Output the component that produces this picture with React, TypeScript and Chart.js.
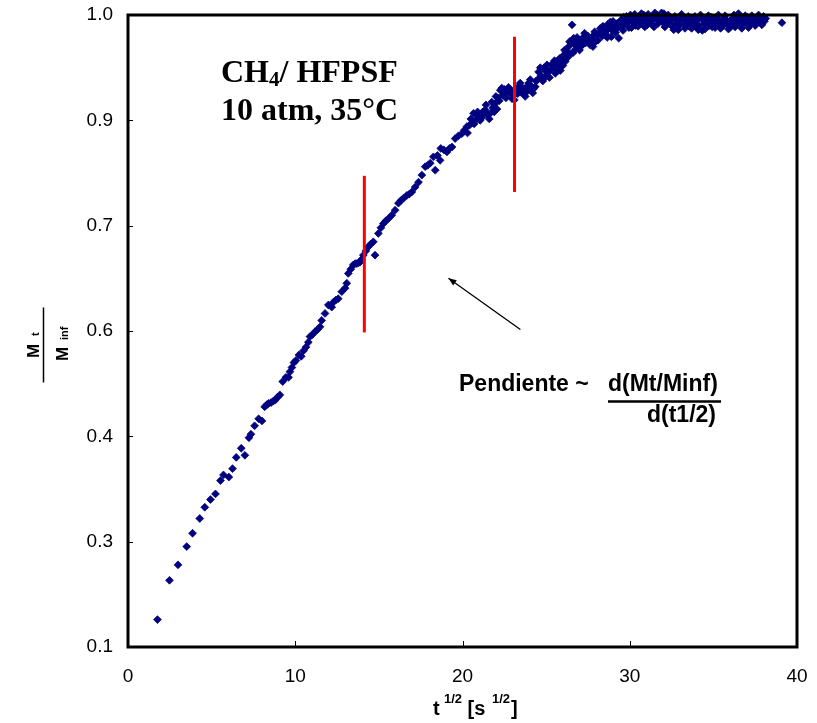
import React, { useEffect, useRef } from "react";
import { Chart, registerables } from "chart.js";

Chart.register(...registerables);

// t^(1/2) [s^(1/2)] , Mt/Minf
const uptakePoints: [number, number][] = [
  [1.76, 0.139], [2.48, 0.195], [2.99, 0.217], [3.51, 0.243], [3.86, 0.262], [4.29, 0.283],
  [4.59, 0.299], [4.93, 0.31], [5.23, 0.318], [5.53, 0.337], [5.71, 0.345], [6.03, 0.342],
  [6.25, 0.354], [6.47, 0.37], [6.77, 0.383], [6.99, 0.373], [7.23, 0.398], [7.35, 0.403],
  [7.57, 0.415], [7.81, 0.425], [8.01, 0.422], [8.17, 0.442], [8.3, 0.445], [8.41, 0.447],
  [8.55, 0.448], [8.68, 0.45], [8.82, 0.452], [8.95, 0.456], [9.08, 0.459], [9.25, 0.478],
  [9.44, 0.484], [9.6, 0.484], [9.68, 0.492], [9.8, 0.498], [9.92, 0.505], [10.04, 0.508],
  [10.22, 0.516], [10.36, 0.514], [10.5, 0.522], [10.64, 0.527], [10.78, 0.534],
  [10.88, 0.542], [11.03, 0.545], [11.18, 0.549], [11.33, 0.552], [11.48, 0.556], [11.58, 0.565],
  [11.78, 0.575], [11.98, 0.587], [12.18, 0.584], [12.28, 0.591], [12.42, 0.594], [12.57, 0.596],
  [12.78, 0.606], [12.98, 0.611], [13.08, 0.618], [13.17, 0.632], [13.32, 0.638], [13.47, 0.644],
  [13.58, 0.646], [13.68, 0.646], [13.78, 0.647], [13.87, 0.648], [13.97, 0.652], [14.07, 0.658],
  [14.22, 0.664], [14.37, 0.67], [14.52, 0.674], [14.67, 0.677], [14.77, 0.658], [14.97, 0.689],
  [15.12, 0.697], [15.27, 0.703], [15.42, 0.707], [15.57, 0.71], [15.77, 0.715], [15.97, 0.722],
  [16.17, 0.732], [16.32, 0.736], [16.47, 0.739], [16.67, 0.743], [16.82, 0.745], [16.97, 0.748],
  [17.17, 0.755], [17.37, 0.762], [17.57, 0.772], [17.77, 0.784], [17.92, 0.786], [18.07, 0.789],
  [18.26, 0.798], [18.37, 0.779], [18.5, 0.8], [18.66, 0.793], [18.7, 0.81], [18.88, 0.808],
  [19.07, 0.805], [19.22, 0.81], [19.37, 0.812], [19.56, 0.824], [19.76, 0.828], [19.96, 0.831],
  [20.11, 0.836], [20.26, 0.841], [20.41, 0.843], [20.56, 0.846], [20.66, 0.86], [20.81, 0.851],
  [20.95, 0.856], [21.06, 0.85], [21.1, 0.853], [21.21, 0.862], [21.36, 0.865], [21.51, 0.858],
  [21.66, 0.86], [21.81, 0.868], [21.96, 0.874], [22.06, 0.866], [22.11, 0.882], [22.26, 0.893],
  [22.41, 0.886], [22.51, 0.894], [22.66, 0.891], [22.81, 0.889], [22.96, 0.881], [23.06, 0.886],
  [23.2, 0.893], [23.35, 0.898], [23.5, 0.89], [23.65, 0.888], [23.8, 0.897], [23.95, 0.903],
  [24.1, 0.899], [24.25, 0.895], [24.4, 0.906], [24.55, 0.919], [24.62, 0.91], [24.7, 0.914],
  [24.85, 0.924], [24.95, 0.912], [25.0, 0.92], [25.15, 0.919], [25.3, 0.923], [25.45, 0.926],
  [25.55, 0.917], [25.6, 0.93], [25.75, 0.929], [25.85, 0.921], [25.9, 0.936], [26.05, 0.943],
  [26.15, 0.934], [26.2, 0.948], [26.35, 0.955], [26.45, 0.945], [26.5, 0.96], [26.55, 0.986],
  [26.65, 0.967], [26.75, 0.951], [26.8, 0.96], [26.95, 0.964], [27.05, 0.955], [27.1, 0.962],
  [27.25, 0.969], [27.35, 0.96], [27.45, 0.965], [27.65, 0.957], [27.7, 0.966], [27.84, 0.971],
  [27.95, 0.962], [28.05, 0.972], [28.24, 0.981], [28.35, 0.97], [28.45, 0.975], [28.54, 0.976],
  [28.65, 0.968], [28.75, 0.981], [28.84, 0.99], [28.95, 0.978], [29.05, 0.985], [29.15, 0.975],
  [29.25, 0.988], [29.34, 0.967], [29.45, 0.992], [29.55, 0.984], [29.64, 0.997], [29.75, 0.988],
  [29.85, 0.993], [29.95, 0.982], [30.04, 1.0], [30.15, 0.991], [30.25, 0.996], [30.35, 0.985],
  [30.44, 0.99], [30.55, 0.997], [30.65, 0.988], [30.75, 0.994], [30.84, 1.0], [30.95, 0.992],
  [31.05, 0.986], [31.15, 0.995], [31.24, 0.988], [31.35, 0.992], [31.45, 0.983], [31.55, 0.996],
  [31.64, 1.0], [31.75, 0.993], [31.85, 0.998], [31.95, 0.99], [32.04, 1.002], [32.15, 0.996],
  [32.25, 0.988], [32.34, 0.995], [32.45, 0.986], [32.55, 0.984], [32.63, 0.979], [32.75, 0.987],
  [32.85, 0.992], [32.95, 0.985], [33.03, 0.993], [33.15, 0.997], [33.25, 0.987], [33.35, 0.994],
  [33.44, 0.99], [33.55, 0.984], [33.65, 0.996], [33.75, 0.99], [33.83, 0.988], [33.95, 0.984],
  [34.05, 0.993], [34.15, 0.985], [34.23, 1.0], [34.34, 0.978], [34.45, 0.988], [34.55, 0.995],
  [34.63, 0.99], [34.75, 0.985], [34.85, 0.997], [34.93, 0.983], [35.05, 0.99], [35.15, 0.995],
  [35.25, 0.986], [35.35, 0.992], [35.43, 0.981], [35.55, 0.989], [35.65, 0.996], [35.73, 0.993],
  [35.85, 0.986], [35.95, 0.991], [36.03, 0.983], [36.13, 0.995], [36.23, 1.0], [36.35, 0.99],
  [36.45, 0.996], [36.53, 0.988], [36.65, 0.993], [36.75, 0.986], [36.85, 0.995], [36.95, 0.99],
  [37.03, 0.997], [37.15, 0.992], [37.25, 0.987], [37.33, 0.99], [37.45, 0.995], [37.55, 0.992],
  [37.63, 0.997], [37.75, 0.99], [37.85, 0.994], [37.93, 0.995], [38.05, 0.991], [38.13, 0.995],
  [39.1, 0.989],
  // additional readings across the thick band
  [20.3, 0.832], [20.5, 0.852], [20.7, 0.845], [20.9, 0.862], [21.2, 0.855], [21.4, 0.872],
  [21.6, 0.852], [21.75, 0.876], [21.9, 0.862], [22.0, 0.884], [22.2, 0.878], [22.35, 0.896],
  [22.6, 0.882], [22.75, 0.897], [22.9, 0.893], [23.1, 0.879], [23.3, 0.888], [23.45, 0.903],
  [23.6, 0.896], [23.75, 0.884], [23.9, 0.892], [24.05, 0.908], [24.2, 0.889], [24.35, 0.898],
  [24.5, 0.908], [24.65, 0.925], [24.8, 0.906], [25.05, 0.929], [25.2, 0.911], [25.35, 0.93],
  [25.5, 0.935], [25.7, 0.921], [25.8, 0.938], [26.0, 0.928], [26.1, 0.95], [26.3, 0.94],
  [26.4, 0.962], [26.6, 0.946], [26.7, 0.958], [26.85, 0.968], [27.0, 0.95], [27.2, 0.958],
  [27.3, 0.974], [27.5, 0.97], [27.6, 0.962], [27.8, 0.955], [27.9, 0.976], [28.1, 0.964],
  [28.2, 0.975], [28.4, 0.984], [28.6, 0.972], [28.7, 0.987], [28.9, 0.969], [29.0, 0.991],
  [29.2, 0.98], [29.4, 0.986], [29.6, 0.978], [29.8, 0.998], [29.9, 0.99], [30.1, 0.982],
  [30.3, 1.001], [30.5, 0.984], [30.7, 1.002], [30.9, 0.983], [31.1, 1.001], [31.3, 0.997],
  [31.5, 1.003], [31.7, 0.988], [31.9, 1.003], [32.1, 0.983], [32.3, 1.0], [32.5, 0.993],
  [32.7, 0.998], [32.9, 0.979], [33.1, 1.001], [33.3, 0.981], [33.5, 0.998], [33.7, 0.981],
  [33.9, 0.998], [34.1, 0.979], [34.3, 0.995], [34.5, 0.98], [34.7, 0.999], [34.9, 0.991],
  [35.1, 0.982], [35.3, 1.0], [35.5, 0.983], [35.7, 0.999], [35.9, 0.98], [36.1, 0.988],
  [36.3, 0.983], [36.5, 1.002], [36.7, 0.981], [36.9, 0.999], [37.1, 0.982], [37.3, 0.999],
  [37.5, 0.985], [37.7, 1.0], [37.9, 0.986], [38.0, 0.998],
];

// red vertical markers (x, yBottom, yTop)
const redMarkerX = [14.13, 23.11];
const redMarkerBottom = [0.548, 0.748];
const redMarkerTop = [0.771, 0.969];

// arrow: tail -> head (data coords)
const arrowTail = [23.46, 0.552];
const arrowHead = [19.16, 0.625];

const xTickValues = [0, 10, 20, 30, 40];
const yTickValues = [0.1, 0.25, 0.4, 0.55, 0.7, 0.85, 1.0];
const yTickLabels = ["0.1", "0.3", "0.4", "0.6", "0.7", "0.9", "1.0"];

const SANS = '"Liberation Sans", Arial, sans-serif';
const SERIF = '"Liberation Serif", "Times New Roman", serif';

const decorPlugin = {
  id: "decor",
  afterDraw(chart: any) {
    const ctx = chart.ctx as CanvasRenderingContext2D;
    const { left, right, top, bottom } = chart.chartArea;
    const xs = chart.scales.x;
    const ys = chart.scales.y;
    ctx.save();
    // frame
    ctx.strokeStyle = "#000";
    ctx.lineWidth = 3;
    ctx.strokeRect(left, top, right - left, bottom - top);
    // inward ticks
    ctx.lineWidth = 1;
    ctx.beginPath();
    for (const v of xTickValues) {
      const px = Math.round(xs.getPixelForValue(v)) + 0.5;
      ctx.moveTo(px, bottom);
      ctx.lineTo(px, bottom - 6);
    }
    for (const v of yTickValues) {
      const py = Math.round(ys.getPixelForValue(v)) + 0.5;
      ctx.moveTo(left, py);
      ctx.lineTo(left + 5, py);
    }
    ctx.stroke();

    // arrow
    const tx = xs.getPixelForValue(arrowTail[0]);
    const ty = ys.getPixelForValue(arrowTail[1]);
    const hx = xs.getPixelForValue(arrowHead[0]);
    const hy = ys.getPixelForValue(arrowHead[1]);
    ctx.strokeStyle = "#000";
    ctx.lineWidth = 1.3;
    ctx.beginPath();
    ctx.moveTo(tx, ty);
    ctx.lineTo(hx, hy);
    ctx.stroke();
    const ang = Math.atan2(hy - ty, hx - tx);
    const L = 8, W = 3.2;
    ctx.fillStyle = "#000";
    ctx.beginPath();
    ctx.moveTo(hx, hy);
    ctx.lineTo(hx - L * Math.cos(ang) + W * Math.sin(ang), hy - L * Math.sin(ang) - W * Math.cos(ang));
    ctx.lineTo(hx - L * Math.cos(ang) - W * Math.sin(ang), hy - L * Math.sin(ang) + W * Math.cos(ang));
    ctx.closePath();
    ctx.fill();

    // title annotation (serif)
    ctx.fillStyle = "#000";
    ctx.textAlign = "left";
    ctx.textBaseline = "alphabetic";
    ctx.font = `bold 32px ${SERIF}`;
    ctx.fillText("CH", 221, 82);
    const wCH = ctx.measureText("CH").width;
    ctx.font = `bold 21px ${SERIF}`;
    ctx.fillText("4", 221 + wCH, 86);
    const w4 = ctx.measureText("4").width;
    ctx.font = `bold 32px ${SERIF}`;
    ctx.fillText("/ HFPSF", 221 + wCH + w4, 82);
    ctx.fillText("10 atm, 35°C", 221, 120);

    // slope annotation
    ctx.font = `bold 23px ${SANS}`;
    ctx.fillText("Pendiente ~", 459, 391);
    ctx.fillText("d(Mt/Minf)", 608, 391);
    ctx.fillText("d(t1/2)", 647, 422);
    ctx.lineWidth = 2.5;
    ctx.beginPath();
    ctx.moveTo(608, 401.5);
    ctx.lineTo(721, 401.5);
    ctx.stroke();

    // x-axis title t^{1/2} [s ^{1/2}]
    ctx.font = `bold 20px ${SANS}`;
    ctx.fillText("t", 433, 715);
    ctx.font = `bold 13px ${SANS}`;
    ctx.fillText("1/2", 444, 703);
    ctx.font = `bold 20px ${SANS}`;
    ctx.fillText("[s", 467.5, 715);
    ctx.font = `bold 13px ${SANS}`;
    ctx.fillText("1/2", 492, 703);
    ctx.font = `bold 20px ${SANS}`;
    ctx.fillText("]", 511, 715);

    // y-axis title: M t / M inf (rotated)
    ctx.save();
    ctx.rotate(-Math.PI / 2);
    ctx.font = `bold 17px ${SANS}`;
    ctx.fillText("M", -358, 39);
    ctx.font = `bold 11px ${SANS}`;
    ctx.fillText("t", -336, 39);
    ctx.font = `bold 17px ${SANS}`;
    ctx.fillText("M", -361, 68);
    ctx.font = `bold 11px ${SANS}`;
    ctx.fillText("inf", -340, 68);
    ctx.restore();
    ctx.lineWidth = 1.5;
    ctx.beginPath();
    ctx.moveTo(43.5, 307.5);
    ctx.lineTo(43.5, 382.5);
    ctx.stroke();

    ctx.restore();
  },
};

const zeroPad = (scale: any) => {
  scale.paddingLeft = 0;
  scale.paddingRight = 0;
  scale.paddingTop = 0;
  scale.paddingBottom = 0;
};

export default function App() {
  const canvasRef = useRef<HTMLCanvasElement | null>(null);

  useEffect(() => {
    const canvas = canvasRef.current;
    if (!canvas) return;
    const redSets = redMarkerX.map((x, i) => ({
      type: "line" as const,
      data: [
        { x, y: redMarkerBottom[i] },
        { x, y: redMarkerTop[i] },
      ],
      borderColor: "#FF0000",
      borderWidth: 3,
      pointRadius: 0,
      showLine: true,
      fill: false,
      order: 0,
    }));
    const chart = new Chart(canvas, {
      type: "scatter",
      data: {
        datasets: [
          ...redSets,
          {
            type: "scatter" as const,
            data: uptakePoints.map(([x, y]) => ({ x, y })),
            pointStyle: "rectRot",
            pointRadius: 3.9,
            pointBorderWidth: 0.8,
            backgroundColor: "#000080",
            borderColor: "#000080",
            clip: false,
            order: 1,
          } as any,
        ],
      },
      options: {
        responsive: false,
        animation: false,
        devicePixelRatio: 1,
        layout: { padding: { top: 15, right: 20, left: 0, bottom: 0 } },
        plugins: { legend: { display: false }, tooltip: { enabled: false } },
        scales: {
          x: {
            type: "linear",
            min: 0,
            max: 40,
            afterBuildTicks: (scale: any) => {
              scale.ticks = xTickValues.map((v) => ({ value: v }));
            },
            afterFit: (scale: any) => {
              scale.height = 76;
              zeroPad(scale);
            },
            ticks: {
              color: "#000",
              font: { family: SANS, size: 19 },
              padding: 18,
              maxRotation: 0,
              autoSkip: false,
            },
            grid: { display: false, drawTicks: false },
            border: { display: false },
          },
          y: {
            type: "linear",
            min: 0.1,
            max: 1.0,
            afterBuildTicks: (scale: any) => {
              scale.ticks = yTickValues.map((v) => ({ value: v }));
            },
            afterFit: (scale: any) => {
              scale.width = 128;
              zeroPad(scale);
            },
            ticks: {
              color: "#000",
              font: { family: SANS, size: 19 },
              padding: 15,
              autoSkip: false,
              callback: (_v: any, i: number) => yTickLabels[i],
            },
            grid: { display: false, drawTicks: false },
            border: { display: false },
          },
        },
      },
      plugins: [decorPlugin],
    });
    return () => chart.destroy();
  }, []);

  return (
    <div style={{ position: "absolute", left: 0, top: 0, width: 817, height: 723, background: "#fff" }}>
      <canvas ref={canvasRef} width={817} height={723} style={{ display: "block" }} />
    </div>
  );
}
